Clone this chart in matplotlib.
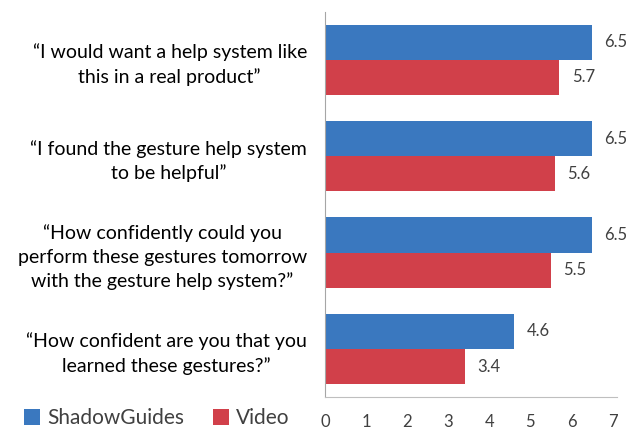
import numpy as np
import matplotlib.pyplot as plt

plt.rcParams['font.family'] = ['Lato', 'DejaVu Sans']
plt.rcParams['text.color'] = '#404040'

# data (top to bottom)
questions = [
    '\u201cI would want a help system like\nthis in a real product\u201d',
    '\u201cI found the gesture help system\nto be helpful\u201d',
    '\u201cHow confidently could you\nperform these gestures tomorrow\nwith the gesture help system?\u201d',
    '\u201cHow confident are you that you\nlearned these gestures?\u201d',
]
shadow = [6.5, 6.5, 6.5, 4.6]
video = [5.7, 5.6, 5.5, 3.4]

blue = '#3A78BF'
red = '#D1404A'

fig = plt.figure(figsize=(6.41, 4.34), dpi=100)
ax = fig.add_axes([0.507, 0.085, 0.455, 0.888])

y = np.arange(len(questions))
h = 0.365
b1 = ax.barh(y - h / 2, shadow, height=h, color=blue, label='ShadowGuides')
b2 = ax.barh(y + h / 2, video, height=h, color=red, label='Video')
ax.bar_label(b1, fmt='%.1f', padding=9, fontsize=12, color='#404040')
ax.bar_label(b2, fmt='%.1f', padding=9, fontsize=12, color='#404040')

ax.set_ylim(len(questions) - 0.5, -0.5)
ax.set_xlim(0, 7.1)
ax.set_xticks(range(8))
ax.set_yticks(y)
ax.set_yticklabels(questions, fontsize=14, multialignment='center', linespacing=1.45)
ax.tick_params(axis='y', length=0, pad=13)
ax.tick_params(axis='x', length=0, pad=12, labelsize=12, labelcolor='#404040')

for s in ['top', 'right']:
    ax.spines[s].set_visible(False)
ax.spines['left'].set_color('#A6A6A6')
ax.spines['bottom'].set_color('#BFBFBF')

fig.legend(handles=[b1, b2], loc='lower left', bbox_to_anchor=(0.008, -0.03),
           ncol=2, frameon=False, fontsize=15, handlelength=0.75,
           handleheight=0.75, handletextpad=0.35, columnspacing=1.4)

fig.savefig('out.png', dpi=100, facecolor='white')
